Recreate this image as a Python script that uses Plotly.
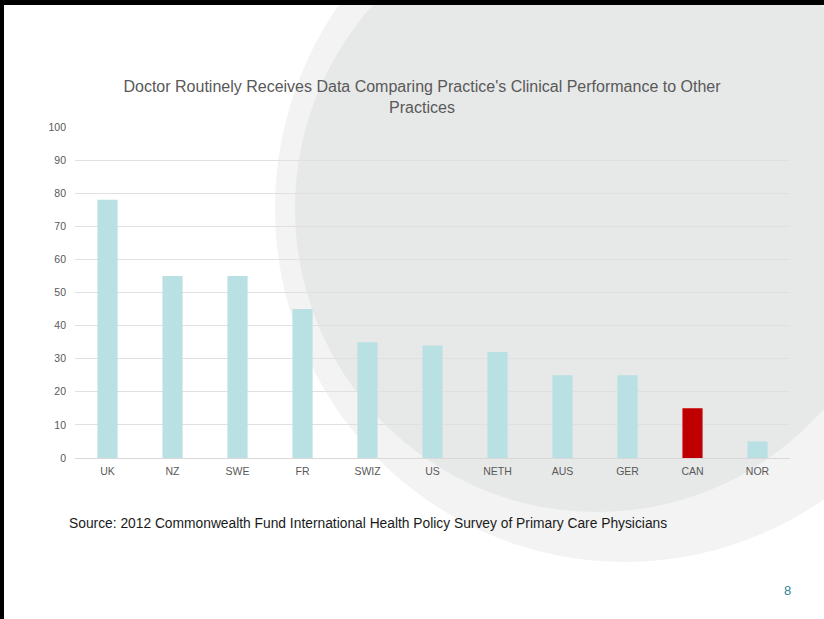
import plotly.graph_objects as go

countries = ["UK", "NZ", "SWE", "FR", "SWIZ", "US", "NETH", "AUS", "GER", "CAN", "NOR"]
values = [78, 55, 55, 45, 35, 34, 32, 25, 25, 15, 5]
highlight = "CAN"
y_ticks = [0, 10, 20, 30, 40, 50, 60, 70, 80, 90, 100]

title_text = ("Doctor Routinely Receives Data Comparing Practice's Clinical Performance to Other"
              "<br>Practices")
source_text = "Source: 2012 Commonwealth Fund International Health Policy Survey of Primary Care Physicians"
page_number = "8"

W, H = 824, 619
FONT = "Liberation Sans, Arial, sans-serif"

bar_colors = ["#c00000" if c == highlight else "#b9e0e3" for c in countries]

fig = go.Figure(go.Bar(
    x=countries, y=values, marker=dict(color=bar_colors, line=dict(width=0)),
    hoverinfo="x+y",
))

def px_x(x):
    return x / W

def px_y(y):
    return (H - y) / H

shapes = [
    # outer light circle
    dict(type="circle", xref="paper", yref="paper",
         x0=px_x(275), x1=px_x(975), y0=px_y(562), y1=px_y(-145),
         fillcolor="#f3f3f3", line=dict(width=0), layer="below"),
    # inner darker circle
    dict(type="circle", xref="paper", yref="paper",
         x0=px_x(295), x1=px_x(899), y0=px_y(512), y1=px_y(-95),
         fillcolor="#e7e8e8", line=dict(width=0), layer="below"),
    # slide border top and left
    dict(type="rect", xref="paper", yref="paper",
         x0=0, x1=1, y0=px_y(5), y1=1.01,
         fillcolor="#000000", line=dict(width=0), layer="above"),
    dict(type="rect", xref="paper", yref="paper",
         x0=-0.01, x1=px_x(4), y0=-0.01, y1=1.01,
         fillcolor="#000000", line=dict(width=0), layer="above"),
]

fig.update_layout(
    template="none",
    width=W, height=H,
    margin=dict(l=0, r=0, t=0, b=0, autoexpand=False),
    paper_bgcolor="#ffffff",
    plot_bgcolor="rgba(0,0,0,0)",
    font=dict(family=FONT, color="#595959", size=10.5),
    bargap=0.69,
    showlegend=False,
    title=dict(text=title_text, x=px_x(422), xanchor="center",
               y=px_y(92), yanchor="middle", yref="container",
               font=dict(family=FONT, size=16, color="#595959")),
    xaxis=dict(domain=[px_x(75), px_x(790)], showgrid=False, automargin=False,
               showline=True, linecolor="#d9d9d9", linewidth=1,
               ticks="", ticklabelstandoff=3,
               tickfont=dict(size=10.5, color="#595959"),
               fixedrange=True),
    yaxis=dict(domain=[px_y(458), px_y(127)], range=[0, 100], automargin=False,
               tickvals=y_ticks, showgrid=True, gridcolor="#e0e0e0", gridwidth=1,
               zeroline=False, showline=False, ticks="", ticklabelstandoff=8,
               tickfont=dict(size=10.5, color="#595959"), fixedrange=True),
    shapes=shapes,
    annotations=[
        dict(text=source_text, xref="paper", yref="paper",
             x=px_x(67), y=px_y(523), xanchor="left", yanchor="middle",
             showarrow=False, font=dict(family=FONT, size=13.8, color="#1a1a1a")),
        dict(text=page_number, xref="paper", yref="paper",
             x=px_x(787), y=px_y(590), xanchor="center", yanchor="middle",
             showarrow=False, font=dict(family=FONT, size=13, color="#31859c")),
    ],
)

fig.write_html("out.html", config={"displayModeBar": False})
